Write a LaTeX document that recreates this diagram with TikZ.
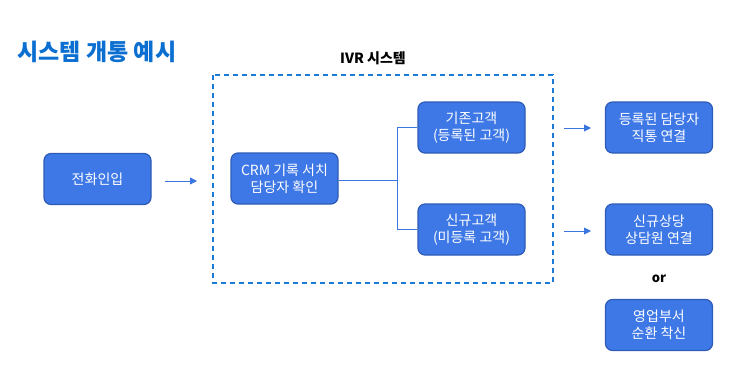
\documentclass[tikz,border=0pt]{standalone}
\usepackage{fontspec}
\setmainfont{Noto Sans CJK KR}
\usepackage{tikz}
\usetikzlibrary{positioning, arrows.meta}
\definecolor{boxfill}{HTML}{3E78E6}
\definecolor{boxline}{HTML}{2D5BB5}
\definecolor{flow}{HTML}{3A76DE}
\definecolor{titleblue}{HTML}{0A6FD0}
\definecolor{frameblue}{HTML}{1A7AD6}

\begin{document}
\begin{tikzpicture}[
  x=1pt, y=-1pt,
  stepbox/.style={rectangle, rounded corners=7pt, fill=boxfill, draw=boxline, line width=1.2pt,
    minimum width=107pt, minimum height=51pt, align=center, text=white,
    font=\fontsize{14}{17}\selectfont, inner sep=2pt},
  arr/.style={-{Triangle[length=7pt, width=7pt]}, draw=flow, fill=flow, line width=0.9pt},
  link/.style={draw=flow, line width=0.9pt},
]
\useasboundingbox (0,0) rectangle (748,388);

% --- title ---
\node[anchor=west, text=titleblue, font=\fontsize{23}{27}\selectfont\bfseries] (title) at (14, 52) {시스템 개통 예시};

% --- IVR frame ---
\draw[frameblue, line width=1.8pt, dash pattern=on 5pt off 4pt] (213, 75) rectangle (553, 283);
\node[font=\fontsize{14}{17}\selectfont\bfseries] (ivr) at (373, 58) {IVR 시스템};

% --- boxes ---
\node[stepbox] (call) at (97.5, 179) {전화인입};
\node[stepbox] (crm) at (284.5, 178.5) {CRM 기록 서치\\담당자 확인};
\node[stepbox] (old) at (471.5, 127.5) {기존고객\\(등록된 고객)};
\node[stepbox] (new) at (471.5, 229.5) {신규고객\\(미등록 고객)};
\node[stepbox] (direct) at (659, 127.5) {등록된 담당자\\직통 연결};
\node[stepbox] (agent) at (659, 229.5) {신규상당\\상담원 연결};
\node[stepbox] (sales) at (659, 325) {영업부서\\순환 착신};
\node[font=\fontsize{13}{15}\selectfont\bfseries] (or) at (659, 279) {or};

% --- connectors ---
\coordinate (split) at (397, 180);
\draw[link] (crm.east |- split) -- (split);
\draw[link] (split) |- (old.west);
\draw[link] (split) |- (new.west);

\coordinate (a1) at (165, 181);
\coordinate (a2) at (197, 181);
\draw[arr] (a1) -- (a2);
\coordinate (b1) at (564, 128);
\coordinate (b2) at (591, 128);
\draw[arr] (b1) -- (b2);
\coordinate (c1) at (564, 231);
\coordinate (c2) at (591, 231);
\draw[arr] (c1) -- (c2);
\end{tikzpicture}
\end{document}
